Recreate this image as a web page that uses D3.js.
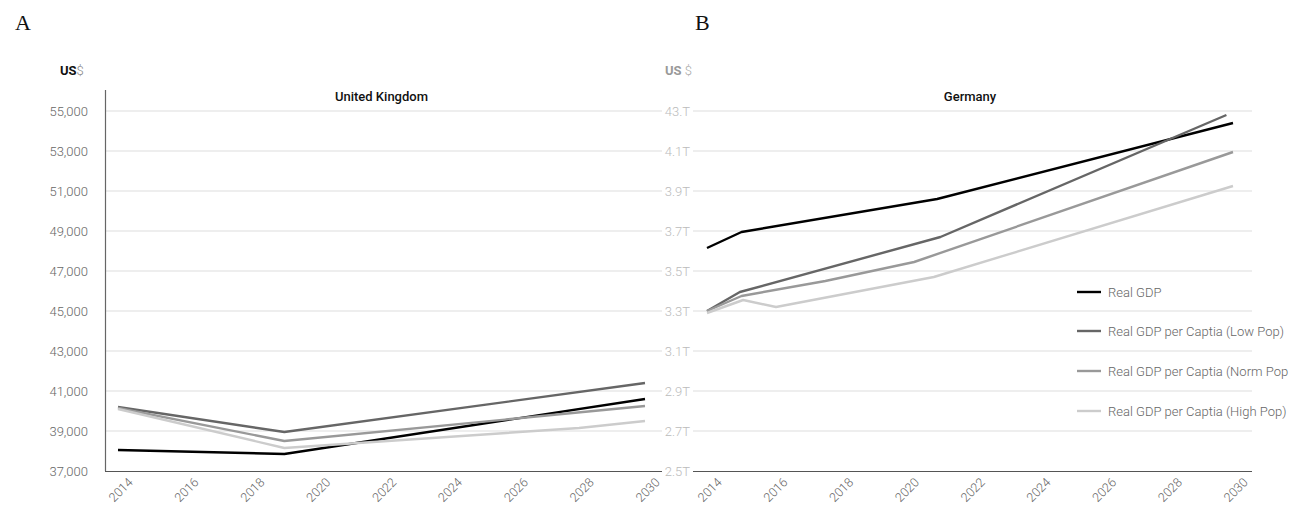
<!DOCTYPE html>
<html lang="en">
<head>
<meta charset="utf-8">
<script src="https://cdn.jsdelivr.net/npm/d3@7"></script>
<style type="text/css">
    body { margin: 0; background: #fff; }
    .axis text { font-family: Roboto, sans-serif; font-weight: 300; font-size: 13px; }
    .xaxis text { font-size: 12.5px; }
    .legend text { font-family: Roboto, sans-serif; font-weight: 300; font-size: 13px; fill: #666; }
</style>
</head>
<body>
<script>
// series names + colours
let seriesNames = ["Real GDP", "Real GDP per Captia (Low Pop)", "Real GDP per Captia (Norm Pop", "Real GDP per Captia (High Pop)"];
let seriesColors = ["#000000", "#666666", "#999999", "#cccccc"];

// United Kingdom (US$)
let ukGdp = [[2014, 38050], [2019.05, 37850], [2030, 40600]];
let ukLow = [[2014, 40200], [2019.05, 38950], [2030, 41400]];
let ukNorm = [[2014, 40150], [2019.05, 38500], [2030, 40250]];
let ukHigh = [[2014, 40100], [2019.05, 38150], [2028, 39150], [2030, 39500]];
let ukTicks = [37000, 39000, 41000, 43000, 45000, 47000, 49000, 51000, 53000, 55000];

// Germany (US$ trillions)
let deGdp = [[2014, 3.615], [2015.05, 3.695], [2021, 3.86], [2030, 4.24]];
let deLow = [[2014, 3.30], [2015, 3.395], [2021.1, 3.67], [2029.8, 4.28]];
let deNorm = [[2014, 3.30], [2015.05, 3.375], [2017.6, 3.45], [2020.3, 3.545], [2030, 4.095]];
let deHigh = [[2014, 3.29], [2015.1, 3.355], [2016.1, 3.32], [2020.9, 3.47], [2030, 3.925]];
let deTicks = [2.5, 2.7, 2.9, 3.1, 3.3, 3.5, 3.7, 3.9, 4.1, 4.3];
let deTickLabels = ["2.5T", "2.7T", "2.9T", "3.1T", "3.3T", "3.5T", "3.7T", "3.9T", "4.1T", "43.T"];

let years = [2014, 2016, 2018, 2020, 2022, 2024, 2026, 2028, 2030];

let w = 1290;
let h = 505;
let svg = d3.select("body").append("svg").attr("width", w).attr("height", h);

let bottom = 471;

function drawPanel(opts) {
    let xScale = d3.scaleLinear().domain([2014, 2030]).range(opts.xRange);
    let yScale = d3.scaleLinear().domain(opts.yDomain).range([bottom, 111]);

    // gridlines
    svg.append("g")
        .selectAll("line")
        .data(opts.ticks.slice(1))
        .enter()
        .append("line")
        .attr("x1", opts.gridX[0])
        .attr("x2", opts.gridX[1])
        .attr("y1", (d) => yScale(d))
        .attr("y2", (d) => yScale(d))
        .attr("stroke", "#dddddd")
        .attr("stroke-width", 1);

    // x axis
    let xAxis = d3.axisBottom(xScale).tickValues(years).tickFormat(d3.format("d")).tickSize(0);
    let gx = svg.append("g")
        .attr("class", "axis xaxis")
        .attr("transform", "translate(0," + bottom + ")")
        .call(xAxis);
    gx.select(".domain").remove();
    gx.selectAll("text")
        .attr("fill", "#666")
        .attr("text-anchor", "end")
        .attr("transform", "translate(12,9) rotate(-45)")
        .attr("dy", "0.35em")
        .attr("y", 0);

    svg.append("line")
        .attr("x1", opts.gridX[0]).attr("x2", opts.gridX[1])
        .attr("y1", bottom + 0.5).attr("y2", bottom + 0.5)
        .attr("stroke", "#555").attr("stroke-width", 1.2);

    // y axis
    let yAxis = d3.axisLeft(yScale).tickValues(opts.ticks).tickFormat(opts.fmt).tickSize(0).tickPadding(0);
    let gy = svg.append("g")
        .attr("class", "axis")
        .attr("transform", "translate(" + opts.labelX + ",0)")
        .call(yAxis);
    gy.select(".domain").remove();
    gy.selectAll("text").attr("fill", opts.labelColor);

    if (opts.axisLine) {
        svg.append("line")
            .attr("x1", opts.gridX[0] + 0.5).attr("x2", opts.gridX[0] + 0.5)
            .attr("y1", 90).attr("y2", bottom)
            .attr("stroke", "#666").attr("stroke-width", 1.2);
    }

    let line = d3.line()
        .x((d) => xScale(d[0]))
        .y((d) => yScale(d[1]));

    svg.append("g")
        .selectAll("path")
        .data(opts.series)
        .enter()
        .append("path")
        .attr("d", (d) => line(d))
        .attr("fill", "none")
        .attr("stroke", (d, i) => seriesColors[i])
        .attr("stroke-width", 2.4)
        .attr("stroke-linejoin", "round");

    svg.append("text")
        .attr("x", (opts.xRange[0] + opts.xRange[1]) / 2)
        .attr("y", 101)
        .attr("text-anchor", "middle")
        .attr("font-family", "Roboto, sans-serif")
        .attr("font-weight", 500)
        .attr("font-size", "13px")
        .attr("fill", "#111")
        .text(opts.title);

    return { xScale: xScale, yScale: yScale };
}

// UK panel (draw first so Germany panel labels sit on top)
drawPanel({
    xRange: [118, 645],
    yDomain: [37000, 55000],
    ticks: ukTicks,
    fmt: d3.format(","),
    gridX: [105, 662],
    labelX: 88,
    labelColor: "#666",
    axisLine: true,
    series: [ukGdp, ukLow, ukNorm, ukHigh],
    title: "United Kingdom"
});

let de = drawPanel({
    xRange: [707, 1233],
    yDomain: [2.5, 4.3],
    ticks: deTicks,
    fmt: (d, i) => deTickLabels[i],
    gridX: [693, 1252],
    labelX: 690,
    labelColor: "#bbb",
    axisLine: false,
    series: [deGdp, deLow, deNorm, deHigh],
    title: "Germany"
});

// panel letters
svg.append("text").attr("x", 15).attr("y", 30)
    .attr("font-family", "Liberation Serif, serif").attr("font-size", "22px").attr("fill", "#111").text("A");
svg.append("text").attr("x", 695).attr("y", 30)
    .attr("font-family", "Liberation Serif, serif").attr("font-size", "22px").attr("fill", "#111").text("B");

// unit labels
let u1 = svg.append("text").attr("x", 60).attr("y", 75)
    .attr("font-family", "Roboto, sans-serif").attr("font-size", "13px");
u1.append("tspan").attr("font-weight", 700).attr("fill", "#111").text("US");
u1.append("tspan").attr("font-weight", 300).attr("fill", "#888").text("$");

let u2 = svg.append("text").attr("x", 665).attr("y", 75)
    .attr("font-family", "Roboto, sans-serif").attr("font-size", "13px");
u2.append("tspan").attr("font-weight", 700).attr("fill", "#999").text("US ");
u2.append("tspan").attr("font-weight", 300).attr("fill", "#aaa").text("$");

// legend
let legendY = [3.395, 3.2, 3.0, 2.8];
let legend = svg.append("g").attr("class", "legend");
seriesNames.forEach((name, i) => {
    let y = de.yScale(legendY[i]);
    legend.append("line")
        .attr("x1", 1077).attr("x2", 1101)
        .attr("y1", y).attr("y2", y)
        .attr("stroke", seriesColors[i])
        .attr("stroke-width", 2.4);
    legend.append("text")
        .attr("x", 1108)
        .attr("y", y)
        .attr("dy", "0.35em")
        .text(name);
});
</script>
</body>
</html>
